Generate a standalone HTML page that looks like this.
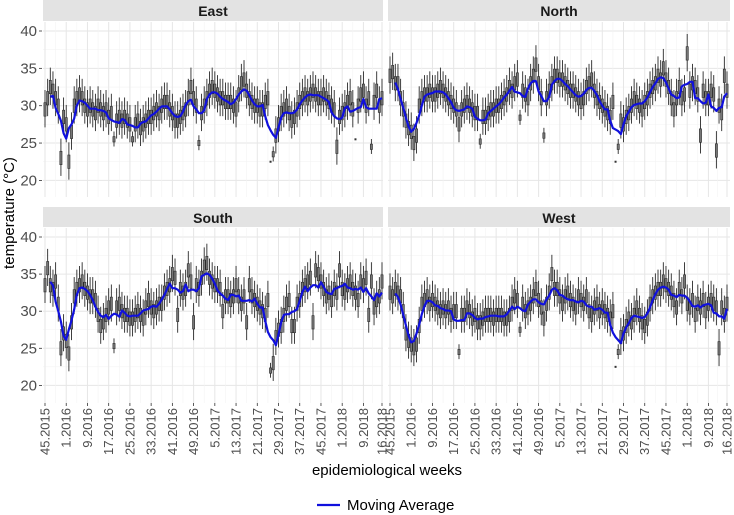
<!DOCTYPE html>
<html><head><meta charset="utf-8"><style>
html,body{margin:0;padding:0;background:#fff;}
svg{display:block;font-family:"Liberation Sans",sans-serif;}
</style></head><body>
<svg id="chart" width="734" height="515" viewBox="0 0 734 515" xmlns="http://www.w3.org/2000/svg"></svg>
<script>
const tickLabels=["45.2015","1.2016","9.2016","17.2016","25.2016","33.2016","41.2016","49.2016","5.2017","13.2017","21.2017","29.2017","37.2017","45.2017","1.2018","9.2018","16.2018"];
const tickIdx=[0,8,16,24,32,40,48,56,64,72,80,88,96,104,112,120,127];
const yTicks=[20,25,30,35,40];
const regions=["East","North","South","West"];
const eastMed=[29.5,31,32.5,32,31,30,23,28.5,27.5,22.5,
26.5,30,31,31.5,31,30,29.5,30,29.5,29,
30,29.5,29,29.5,28.5,29,25.5,28,28.5,28,
28.5,28,27.5,25.5,27.5,28,27,27.5,28,28.5,
28.5,29,29.5,29,30,30.5,30.5,29.5,29,28,
28,28.5,29,29.5,31,32.5,31,30,25,29,
30,31,32,32.5,32,31.5,31,31,30.5,30.5,
30.5,30,29.5,31.5,33,33.5,32,31,30.5,30,
30,29.5,29.5,30.5,31,22.5,23.5,26,27.5,29,
29.5,30,29,28,28.5,29.5,30.5,31,31.5,31,
31.5,32,31.5,31,31,31.5,31,30.5,30,29.5,
24.5,28.5,29,29.5,30.5,31,29.5,25.5,30,31.5,
32,30,31,24.5,30.5,32,30,31];
const northMed=[34,34.5,33,33,31,29.5,28,27,26.5,25,
26,30,31,31.5,31.5,32,31.5,31.5,32,32.5,
32,31.5,31,30.5,30,29.5,27.5,29.5,30,30.5,
30,29.5,29,29,25.2,28.5,28.5,29,29.5,29.5,
30,30,30.5,31,31.5,32.5,32,33,33.5,28.4,
32,31.5,31,33,34,35.5,33,31,26,31,
32,33,34,34,33.5,33.5,33,32.5,32,32,
31.5,31,30.5,31,32.5,33,33.5,32,31,30.5,
30,29.5,29,28.5,30.5,22.5,24.5,28,27.5,28.5,
29,30,31,30.5,30,29.5,30.5,31,32,32.5,
33,34,33.5,35,33.5,32.5,31,29.5,31,32.5,
31,31.5,37,32,33,32.5,31.5,26,32,31,
31,32,31.5,24,30,29,34,32];
const southMed=[33.5,35.8,33.5,33,34,31,25,27,26,24.3,
28.5,32,33,33.5,34,
33,32.5,32,32,31.5,29.5,28,28.5,
29.5,30.5,31,25.3,30.5,31,30,29.5,
29.5,29,29,29.5,30,29.5,29,30.5,31.5,30.5,
30,30.5,31,31,32.5,33,33.5,35,34.5,29.5,
33,32.5,33,35.5,34,28.5,33.5,33,34.5,36,
36.5,34.5,34,33.5,33.5,33,30,32,32,31.5,
32,33.5,32,31,32,28.5,33.5,32,31.5,31,
30.5,30,29.5,31.5,22,23,26.5,27.5,
28,29.5,31,31.5,28,28,31,
31.5,33,33.5,34,34.5,28.5,35.5,35,34,33,
32,32.5,31.5,33,32.5,35.5,33,32.5,33.5,34,
33,32.5,31.5,34,33.5,34.5,29.5,34,30.5,31.5,32,34];
const westMed=[32.5,32,33,32.5,32,
30,27,26,25.5,25,25.5,
28,31,31.5,32,
31,31.5,31,30.5,30,30.5,30,30.5,29.5,30,30,
24.5,
29.5,29.5,30.5,30,29,29.5,28.5,28.5,29,
29.5,29.5,29.5,29,29.5,29.5,29.5,29,29,29.5,
31,32,31.5,27.5,31,30,30.5,31,32,33,
31.5,30.5,29,31,32.5,35,
33,33,32,31,32,32.5,31.5,31,30.5,32,
31.5,31,32,30,29.5,30.5,31,30,30.5,30,
29.5,29,30,22.5,24.5,26.5,27,
28,29,28.5,29.5,30.5,29.5,28.5,
28,29,31,32,32.5,33,33,34,33.5,33,
32.5,31.5,30.5,33,32,34,31,30.5,31.5,29.5,
31,30.5,31.5,30,31,31.5,31,30.5,25,30.5,29.5,31];
const eastNarrow=[26,33,58,85,86,117,123];
const northNarrow=[34,49,58,85,86];
const southNarrow=[26,85];
const westNarrow=[26,49,85,86];
const pointOnly={East:[85,117],North:[85],South:[],West:[85]};
const meds={East:eastMed,North:northMed,South:southMed,West:westMed};
const narrow={East:eastNarrow,North:northNarrow,South:southNarrow,West:westNarrow};

const NS="http://www.w3.org/2000/svg";
const svg=document.getElementById('chart');
function mk(tag,attrs,parent){const e=document.createElementNS(NS,tag);for(const k in attrs)e.setAttribute(k,attrs[k]);(parent||svg).appendChild(e);return e;}
const nWeeks=128;
const panels={
 East:{x0:43,x1:383,bx:45,top:0,py0:22,py1:197,y40:31,per:7.47},
 North:{x0:388,x1:730,bx:390,top:0,py0:22,py1:197,y40:31,per:7.47},
 South:{x0:43,x1:383,bx:45,top:207,py0:228,py1:403,y40:237,per:7.42},
 West:{x0:388,x1:730,bx:390,top:207,py0:228,py1:403,y40:237,per:7.42}
};
const step=(382-45)/(nWeeks-1);
regions.forEach(r=>{
 const p=panels[r];
 const xs=i=>p.bx+i*step;
 const ys=v=>p.y40+(40-v)*p.per;
 const g=mk('g',{});
 
 
 const strip=mk('rect',{x:p.x0,y:p.top,width:p.x1-p.x0,height:p.py0-p.top-1,fill:'#e3e3e3'},g);
 
 
 const st=mk('text',{x:(p.x0+p.x1)/2,y:p.top+16,'text-anchor':'middle','font-size':'14','font-weight':'bold',fill:'#1a1a1a'},g);
 st.textContent=r;
 
 
 for(let v=17.5;v<=42.5;v+=2.5){const y=ys(v);if(y<p.py0||y>p.py1)continue;
  mk('line',{x1:p.x0,x2:p.x1,y1:y,y2:y,stroke:v%5===0?'#e6e6e6':'#f3f3f3','stroke-width':v%5===0?1:0.6},g);}
 tickIdx.forEach((ti,k)=>{const x=xs(ti);
  mk('line',{x1:x,x2:x,y1:p.py0,y2:p.py1,stroke:'#e6e6e6','stroke-width':1},g);
  if(k<tickIdx.length-1){const xm=xs((ti+tickIdx[k+1])/2);mk('line',{x1:xm,x2:xm,y1:p.py0,y2:p.py1,stroke:'#f3f3f3','stroke-width':0.6},g);}
 });
 const med=meds[r];
 med.forEach((m,i)=>{
  const x=xs(i);
  if(pointOnly[r].includes(i)){const pt=mk('rect',{x:x-1,y:ys(m)-1,width:2,height:2,fill:'#333'},g);
   
   return;}
  const s=narrow[r].includes(i)?0.4:1;
  const wl=mk('line',{x1:x,x2:x,y1:ys(m+2.6*s),y2:ys(m-2.4*s),stroke:'#2a2a2a','stroke-width':0.9},g);
  
  
  const b=mk('rect',{x:x-1.1,y:ys(m+0.9*s),width:2.2,height:(1.8*s)*p.per,fill:'#777',stroke:'#2a2a2a','stroke-width':0.6},g);
  
  
 });
 const w=2;let d='';
 for(let i=2;i<med.length;i++){let sum=0,c=0;for(let j=i-w;j<=i+w;j++){if(j>=0&&j<med.length){sum+=med[j];c++;}}
  d+=(d?'L':'M')+xs(i).toFixed(1)+','+ys(sum/c).toFixed(1);}
 const ma=mk('path',{d:d,fill:'none',stroke:'#1010dd','stroke-width':2.2,'stroke-linejoin':'round'},g);
 
 
 if(p.x0<100){yTicks.forEach(v=>{const y=ys(v);
  mk('line',{x1:39,x2:42,y1:y,y2:y,stroke:'#333','stroke-width':0.8},g);
  const t=mk('text',{x:37,y:y+5,'text-anchor':'end','font-size':'15',fill:'#4d4d4d'},g);t.textContent=v;
  
  });}
 if(p.top>100){tickIdx.forEach((ti,k)=>{const x=xs(ti);
  mk('line',{x1:x,x2:x,y1:p.py1,y2:p.py1+3,stroke:'#333','stroke-width':0.8},g);
  const t=mk('text',{x:0,y:0,'text-anchor':'end','font-size':'13',fill:'#4d4d4d',transform:'translate('+(x+4.5)+','+(p.py1+5)+') rotate(-90)'},g);
  t.textContent=tickLabels[k];
  
  });}
});
const yt=mk('text',{x:0,y:0,'text-anchor':'middle','font-size':'15',fill:'#000',transform:'translate(14,213) rotate(-90)'});
yt.textContent='temperature (°C)';


const xt=mk('text',{x:387,y:475,'text-anchor':'middle','font-size':'15',fill:'#000'});
xt.textContent='epidemiological weeks';


const lg=mk('g',{});


mk('line',{x1:317,x2:340,y1:505,y2:505,stroke:'#1010dd','stroke-width':2.2},lg);
const lt=mk('text',{x:347,y:510,'font-size':'15',fill:'#000'},lg);
lt.textContent='Moving Average';
</script>
</body></html>
